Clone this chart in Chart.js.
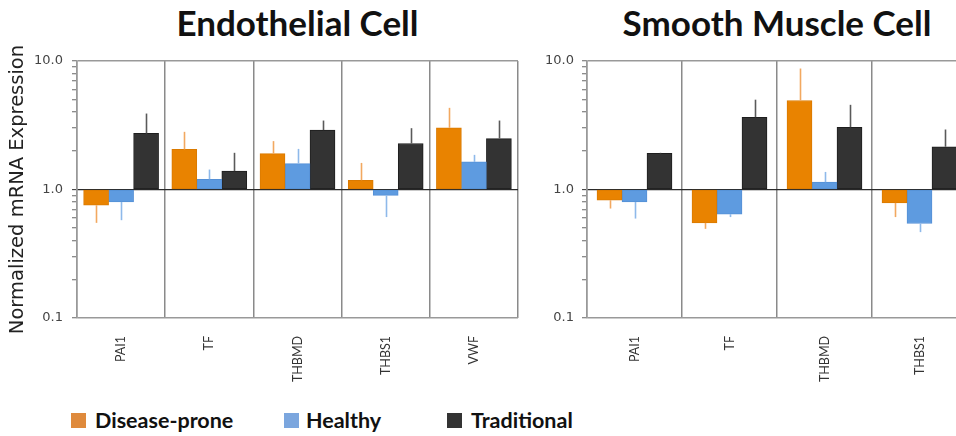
<!DOCTYPE html>
<html>
<head>
<meta charset="utf-8">
<script src="https://cdn.jsdelivr.net/npm/chart.js@4.4.1/dist/chart.umd.min.js"></script>
<style>
html,body{margin:0;padding:0;background:#fff;}
#wrap{position:relative;width:956px;height:436px;overflow:hidden;background:#fff;}
canvas{position:absolute;top:0;}
.ttl{position:absolute;top:1px;height:42px;line-height:42px;font-family:Lato,"Open Sans",sans-serif;font-weight:bold;font-size:35px;color:#111;text-align:center;white-space:nowrap;}
.lg{position:absolute;top:408px;height:24px;line-height:24px;font-family:Lato,sans-serif;font-weight:bold;font-size:21.5px;color:#111;white-space:nowrap;}
.sq{position:absolute;top:413px;width:15px;height:15px;}
</style>
</head>
<body>
<div id="wrap">
  <div class="ttl" id="t1" style="left:77px;width:441px;">Endothelial Cell</div>
  <div class="ttl" id="t2" style="left:587px;width:380px;">Smooth Muscle Cell</div>
  <canvas id="c1" width="530" height="400" style="left:0px;width:530px;height:400px;"></canvas>
  <canvas id="c2" width="460" height="400" style="left:530px;width:460px;height:400px;"></canvas>
  <div class="sq" style="left:71px;background:#DF8A3C;"></div>
  <div class="lg" style="left:95px;">Disease-prone</div>
  <div class="sq" style="left:284px;background:#7BA6DE;"></div>
  <div class="lg" style="left:306px;">Healthy</div>
  <div class="sq" style="left:447px;background:#333333;"></div>
  <div class="lg" style="left:471px;">Traditional</div>
</div>
<script>
// ---- Data ----
const seriesNames = ['Disease-prone', 'Healthy', 'Traditional'];
const yTickLabels = [0.1, 1, 10];

const endoGenes = ['PAI1', 'TF', 'THBMD', 'THBS1', 'VWF'];
const endoDisease = [0.755, 2.05, 1.90, 1.18, 3.02];
const endoDiseaseErr = [0.55, 2.81, 2.38, 1.61, 4.32];
const endoHealthy = [0.80, 1.20, 1.59, 0.90, 1.64];
const endoHealthyErr = [0.577, 1.43, 2.07, 0.61, 1.86];
const endoTraditional = [2.73, 1.39, 2.90, 2.28, 2.49];
const endoTraditionalErr = [3.9, 1.93, 3.44, 3.0, 3.44];

const smcGenes = ['PAI1', 'TF', 'THBMD', 'THBS1'];
const smcDisease = [0.826, 0.55, 4.93, 0.787];
const smcDiseaseErr = [0.711, 0.494, 8.74, 0.61];
const smcHealthy = [0.80, 0.643, 1.14, 0.544];
const smcHealthyErr = [0.594, 0.61, 1.37, 0.466];
const smcTraditional = [1.91, 3.65, 3.05, 2.15];
const smcTraditionalErr = [1.93, 5.0, 4.56, 2.93];

// ---- Styles ----
const fillColors = ['#E98300', '#5E9BE0', '#333333'];
const borderColors = ['#DA7A00', '#5590D6', '#1E1E1E'];
const errColors = ['#F2A860', '#8EB9EA', '#5A5A5A'];

const isMajorVal = v => yTickLabels.some(t => Math.abs(v - t) < 1e-9);

const errorBarPlugin = {
  id: 'errorBars',
  afterDatasetsDraw(chart) {
    const ctx = chart.ctx;
    const y = chart.scales.y;
    chart.data.datasets.forEach((ds, i) => {
      const meta = chart.getDatasetMeta(i);
      ctx.save();
      ctx.strokeStyle = errColors[i];
      ctx.lineWidth = 1.6;
      meta.data.forEach((el, j) => {
        const v = ds.data[j], e = ds.errEnd[j];
        if (e == null) return;
        ctx.beginPath();
        ctx.moveTo(Math.round(el.x) + 0.5, y.getPixelForValue(v));
        ctx.lineTo(Math.round(el.x) + 0.5, y.getPixelForValue(e));
        ctx.stroke();
      });
      ctx.restore();
    });
  }
};

function makeChart(id, labels, vals, errs, yWidth, padRight, showTitle, tickPad) {
  const datasets = vals.map((d, i) => ({
    label: seriesNames[i],
    data: d,
    errEnd: errs[i],
    base: 1,
    backgroundColor: fillColors[i],
    borderColor: borderColors[i],
    borderWidth: 1,
    borderSkipped: false,
    barThickness: 25
  }));
  return new Chart(document.getElementById(id), {
    type: 'bar',
    data: { labels: labels, datasets: datasets },
    plugins: [errorBarPlugin],
    options: {
      responsive: false,
      devicePixelRatio: 1,
      animation: false,
      layout: { padding: { left: 0, top: 61, right: padRight, bottom: 0 } },
      plugins: { legend: { display: false }, tooltip: { enabled: false }, title: { display: false } },
      scales: {
        x: {
          offset: true,
          grid: { offset: true, color: '#8a8a8a', lineWidth: 1.5, drawTicks: false },
          border: { display: false },
          ticks: {
            maxRotation: 90, minRotation: 90, autoSkip: false,
            padding: 18,
            color: '#333',
            font: { family: 'Lato', size: 12.5 }
          },
          afterFit(s) { s.height = 82; }
        },
        y: {
          type: 'logarithmic',
          min: 0.1, max: 10,
          border: { display: true, color: '#999', width: 1.5 },
          afterBuildTicks(s) {
            // keep only the 1..9 x 10^n positions (drop the 1.5 step)
            s.ticks = s.ticks.filter(t => {
              const m = t.value / Math.pow(10, Math.floor(Math.log10(t.value) + 1e-9));
              return Math.abs(m - Math.round(m)) < 1e-6;
            });
          },
          grid: {
            color(c) {
              const v = c.tick && c.tick.value;
              if (Math.abs(v - 1) < 1e-9) return '#2a2a2a';
              if (Math.abs(v - 10) < 1e-9 || Math.abs(v - 0.1) < 1e-9) return '#999';
              return 'rgba(0,0,0,0)';
            },
            lineWidth(c) {
              const v = c.tick && c.tick.value;
              return Math.abs(v - 1) < 1e-9 ? 1.3 : 1.5;
            },
            tickColor(c) {
              const v = c.tick && c.tick.value;
              return Math.abs(v - 1) < 1e-9 ? '#2a2a2a' : '#666';
            },
            tickWidth: 1,
            tickLength: 5,
            drawTicks: true
          },
          ticks: {
            autoSkip: false,
            padding: tickPad,
            color: '#444',
            font: { family: 'DejaVu Sans', size: 13 },
            callback(v) {
              return isMajorVal(v) ? Number(v).toFixed(1) : '';
            }
          },
          title: {
            display: showTitle,
            text: 'Normalized mRNA Expression',
            color: '#222',
            font: { family: 'DejaVu Sans', size: 19.5 },
            padding: { top: 6, bottom: 0 }
          },
          afterFit(s) { s.width = yWidth; }
        }
      }
    }
  });
}

makeChart('c1', endoGenes,
  [endoDisease, endoHealthy, endoTraditional],
  [endoDiseaseErr, endoHealthyErr, endoTraditionalErr],
  77, 12, true, 9);

makeChart('c2', smcGenes,
  [smcDisease, smcHealthy, smcTraditional],
  [smcDiseaseErr, smcHealthyErr, smcTraditionalErr],
  57, 23, false, 8);
</script>
</body>
</html>
